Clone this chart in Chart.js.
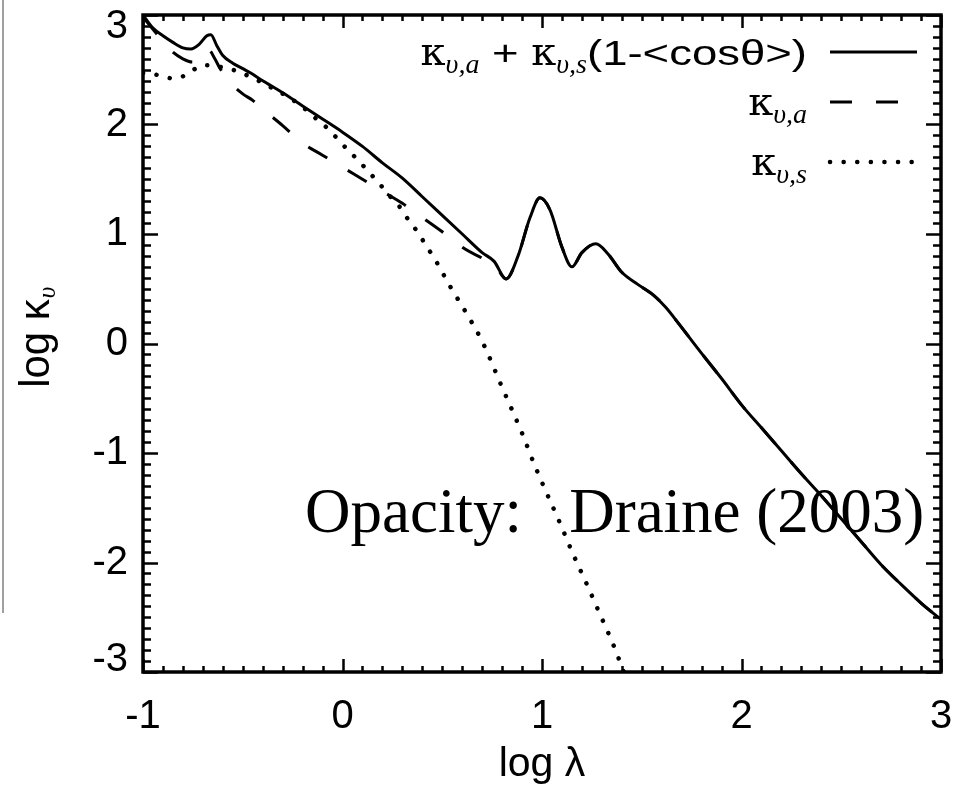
<!DOCTYPE html>
<html><head><meta charset="utf-8">
<script src="https://cdn.jsdelivr.net/npm/chart.js@4.4.1/dist/chart.umd.min.js"></script>
<style>
html,body{margin:0;padding:0;background:#fff;}
#wrap{position:relative;width:965px;height:795px;}
#edge{position:absolute;left:2px;top:0;width:2px;height:613px;background:#a0a0a0;}
canvas{position:absolute;left:0;top:0;}
</style></head><body>
<div id="wrap"><canvas id="c" width="965" height="795"></canvas><div id="edge"></div></div>
<script>
// ---- data ----
const totalX = [-1.00,-0.95,-0.90,-0.85,-0.80,-0.76,-0.72,-0.68,-0.66,-0.63,-0.60,-0.55,-0.50,-0.46,-0.40,-0.30,-0.20,-0.10,0.00,0.10,0.20,0.30,0.40,0.50,0.60,0.70,0.76,0.82,0.88,0.94,0.99,1.04,1.10,1.15,1.20,1.27,1.33,1.40,1.48,1.56,1.62,1.69,1.80,1.90,2.00,2.10,2.20,2.30,2.40,2.50,2.60,2.70,2.80,2.90,3.00];
const totalY = [3.00,2.88,2.81,2.75,2.70,2.69,2.73,2.81,2.82,2.72,2.63,2.56,2.51,2.47,2.40,2.29,2.17,2.05,1.93,1.80,1.65,1.51,1.34,1.17,1.00,0.83,0.75,0.59,0.80,1.15,1.33,1.22,0.88,0.70,0.83,0.91,0.82,0.65,0.54,0.44,0.33,0.17,-0.09,-0.32,-0.56,-0.77,-0.98,-1.19,-1.39,-1.60,-1.81,-2.02,-2.20,-2.37,-2.52];

const absX = [-1.00,-0.95,-0.90,-0.85,-0.80,-0.75,-0.70,-0.67,-0.64,-0.61,-0.55,-0.50,-0.45,-0.40,-0.30,-0.20,-0.10,0.00,0.10,0.20,0.30,0.40,0.50,0.60,0.70,0.76,0.82,0.88,0.94,0.99,1.04,1.10,1.15,1.20,1.27,1.33,1.40,1.48,1.56,1.62,1.69,1.80,1.90,2.00,2.10,2.20,2.30,2.40,2.50,2.60,2.70,2.80,2.90,3.00];
const absY = [2.98,2.87,2.76,2.66,2.60,2.57,2.61,2.68,2.60,2.50,2.36,2.28,2.22,2.14,1.99,1.83,1.72,1.61,1.50,1.39,1.28,1.15,1.02,0.88,0.78,0.73,0.59,0.80,1.15,1.33,1.22,0.88,0.70,0.83,0.91,0.82,0.65,0.54,0.44,0.33,0.17,-0.09,-0.32,-0.56,-0.77,-0.98,-1.19,-1.39,-1.60,-1.81,-2.02,-2.20,-2.37,-2.52];

const scaX = [-1.00,-0.95,-0.90,-0.85,-0.80,-0.77,-0.70,-0.65,-0.60,-0.55,-0.48,-0.40,-0.35,-0.27,-0.20,-0.15,-0.09,-0.03,0.02,0.08,0.13,0.18,0.25,0.29,0.33,0.38,0.42,0.46,0.50,0.54,0.58,0.62,0.70,0.80,0.90,0.965,1.005,1.09,1.155,1.225,1.29,1.355,1.41];
const scaY = [2.47,2.46,2.44,2.42,2.44,2.47,2.54,2.54,2.52,2.50,2.45,2.38,2.33,2.25,2.16,2.08,1.99,1.88,1.78,1.67,1.57,1.47,1.32,1.24,1.13,1.01,0.89,0.78,0.65,0.52,0.40,0.28,0.02,-0.40,-0.82,-1.12,-1.29,-1.64,-1.92,-2.20,-2.47,-2.74,-3.00];

const xTickValues = [-1, 0, 1, 2, 3];
const yTickValues = [-3, -2, -1, 0, 1, 2, 3];
const xTitle = 'log λ';
const yTitle = 'log κ';
const yTitleSub = 'υ';
const annotationText = 'Opacity:   Draine (2003)';
const annotationAt = [-0.188, -1.72];
const seriesLabels = ['κυ,a + κυ,s(1-<cosθ>)', 'κυ,a', 'κυ,s'];

// ---- helpers ----
const SANS = '"Liberation Sans", Arial, Helvetica, sans-serif';
const SERIF = '"Liberation Serif", "Times New Roman", serif';
const pts = (xs, ys) => xs.map((x, i) => ({x, y: ys[i]}));

const K = {t:'κ', f:'40px "DejaVu Serif", serif', sx:1, dy:0};
const SUBA = {t:'υ,a', f:'italic 28px ' + SERIF, sx:1, dy:8};
const SUBS = {t:'υ,s', f:'italic 28px ' + SERIF, sx:1, dy:8};
const legendParts = [
  [K, SUBA, {t:' + ', f:'35px ' + SANS, sx:1.3, dy:0}, K, SUBS, {t:'(1-<cosθ>)', f:'35px ' + SANS, sx:1.3, dy:0}],
  [K, SUBA],
  [K, SUBS]
];

const ticksPlugin = {
  id: 'inTicks',
  afterDatasetsDraw(chart) {
    const {ctx, chartArea: a, scales: {x, y}} = chart;
    ctx.save();
    ctx.strokeStyle = '#000';
    ctx.lineWidth = 2.5;
    ctx.beginPath();
    for (let i = 0; i <= 40; i++) {
      const v = x.min + i * 0.1;
      const px = Math.round(x.getPixelForValue(v)) + 0.5;
      const len = (i % 10 === 0) ? 13 : 6;
      ctx.moveTo(px, a.bottom); ctx.lineTo(px, a.bottom - len);
      ctx.moveTo(px, a.top); ctx.lineTo(px, a.top + len);
    }
    for (let i = 0; i <= 60; i++) {
      const v = y.min + i * 0.1;
      const py = Math.round(y.getPixelForValue(v)) + 0.5;
      const len = (i % 10 === 0) ? 15 : 8;
      ctx.moveTo(a.left, py); ctx.lineTo(a.left + len, py);
      ctx.moveTo(a.right, py); ctx.lineTo(a.right - len, py);
    }
    ctx.stroke();
    ctx.lineWidth = 3.5;
    ctx.strokeRect(a.left, a.top, a.right - a.left, a.bottom - a.top);
    ctx.restore();
  }
};

const legendPlugin = {
  id: 'mathLegend',
  afterDatasetsDraw(chart) {
    const {ctx, chartArea: a} = chart;
    const baseOff = [50, 100, 160];
    const lineOff = [37, 87, 147];
    const textRight = a.right - 134;
    ctx.save();
    ctx.fillStyle = '#000';
    ctx.textBaseline = 'alphabetic';
    ctx.textAlign = 'left';
    chart.data.datasets.forEach((ds, i) => {
      const parts = legendParts[i];
      let total = 0;
      parts.forEach(p => { ctx.font = p.f; total += ctx.measureText(p.t).width * p.sx; });
      let xx = textRight - total;
      const by = a.top + baseOff[i];
      parts.forEach(p => {
        ctx.font = p.f;
        const w = ctx.measureText(p.t).width;
        ctx.save();
        ctx.translate(xx, by + p.dy);
        ctx.scale(p.sx, 1);
        ctx.fillText(p.t, 0, 0);
        ctx.restore();
        xx += w * p.sx;
      });
      const ly = a.top + lineOff[i];
      ctx.save();
      ctx.strokeStyle = ds.borderColor;
      ctx.lineWidth = ds.borderWidth;
      ctx.lineCap = ds.borderCapStyle || 'butt';
      ctx.setLineDash(ds.borderDash || []);
      ctx.beginPath();
      ctx.moveTo(a.right - 111, ly);
      ctx.lineTo(a.right - 24, ly);
      ctx.stroke();
      ctx.restore();
    });
    ctx.restore();
  }
};

const annotationPlugin = {
  id: 'annot',
  afterDatasetsDraw(chart) {
    const {ctx, scales: {x, y}} = chart;
    ctx.save();
    ctx.fillStyle = '#000';
    ctx.font = '63px ' + SERIF;
    ctx.textAlign = 'left';
    ctx.textBaseline = 'alphabetic';
    ctx.fillText(annotationText, x.getPixelForValue(annotationAt[0]), y.getPixelForValue(annotationAt[1]));
    ctx.restore();
  }
};

const subPlugin = {
  id: 'ySub',
  afterDraw(chart) {
    const {ctx, scales: {y}} = chart;
    const t = y.options.title;
    const fs = t.font.size, lh = fs * 1.2;
    const cx = y.left + lh / 2 + t.padding.top;
    const cy = (y.top + y.bottom) / 2;
    ctx.save();
    ctx.font = fs + 'px ' + SANS;
    const w = ctx.measureText(yTitle).width;
    ctx.translate(cx, cy);
    ctx.rotate(-Math.PI / 2);
    ctx.font = 'italic 25px ' + SERIF;
    ctx.fillStyle = '#000';
    ctx.textAlign = 'left';
    ctx.textBaseline = 'middle';
    ctx.fillText(yTitleSub, w / 2 + 1, 11);
    ctx.restore();
  }
};

new Chart(document.getElementById('c').getContext('2d'), {
  type: 'scatter',
  data: {
    datasets: [
      {label: seriesLabels[0], data: pts(totalX, totalY), showLine: true, borderColor: '#000', borderWidth: 3,
       pointRadius: 0, cubicInterpolationMode: 'monotone'},
      {label: seriesLabels[1], data: pts(absX, absY), showLine: true, borderColor: '#000', borderWidth: 3,
       borderDash: [22, 24], pointRadius: 0, cubicInterpolationMode: 'monotone'},
      {label: seriesLabels[2], data: pts(scaX, scaY), showLine: true, borderColor: '#000', borderWidth: 4.5,
       borderDash: [0.1, 13.5], borderCapStyle: 'round', pointRadius: 0, cubicInterpolationMode: 'monotone'}
    ]
  },
  options: {
    responsive: false, animation: false, devicePixelRatio: 1,
    layout: {padding: {top: 15, right: 24, left: 0, bottom: 0}},
    plugins: {legend: {display: false}, tooltip: {enabled: false}},
    scales: {
      x: {
        type: 'linear', min: -1, max: 3,
        afterBuildTicks(s) { s.ticks = xTickValues.map(v => ({value: v})); },
        ticks: {padding: 21, color: '#000', maxRotation: 0, autoSkip: false, font: {family: SANS, size: 40}},
        grid: {display: false, drawTicks: false},
        border: {display: false},
        title: {display: true, text: xTitle, color: '#000', font: {family: SANS, size: 41}, padding: {top: 0, bottom: 6}},
        afterFit(s) { s.height = 123; s.paddingLeft = 0; s.paddingRight = 0; }
      },
      y: {
        type: 'linear', min: -3, max: 3,
        afterBuildTicks(s) { s.ticks = yTickValues.map(v => ({value: v})); },
        ticks: {
          padding: 15, color: '#000', autoSkip: false,
          font: (c) => ({family: SANS, size: 40, lineHeight: (c.tick && Math.abs(c.tick.value) === 3) ? 0.6 : 1.2}),
          callback: (v) => v === 3 ? ['', '3'] : (v === -3 ? ['-3', ''] : String(v))
        },
        grid: {display: false, drawTicks: false},
        border: {display: false},
        title: {display: true, text: yTitle, color: '#000', font: {family: SANS, size: 42}, padding: {top: 12, bottom: 0}},
        afterFit(s) { s.width = 143; s.paddingTop = 0; s.paddingBottom = 0; }
      }
    }
  },
  plugins: [ticksPlugin, legendPlugin, annotationPlugin, subPlugin]
});
</script>
</body></html>
